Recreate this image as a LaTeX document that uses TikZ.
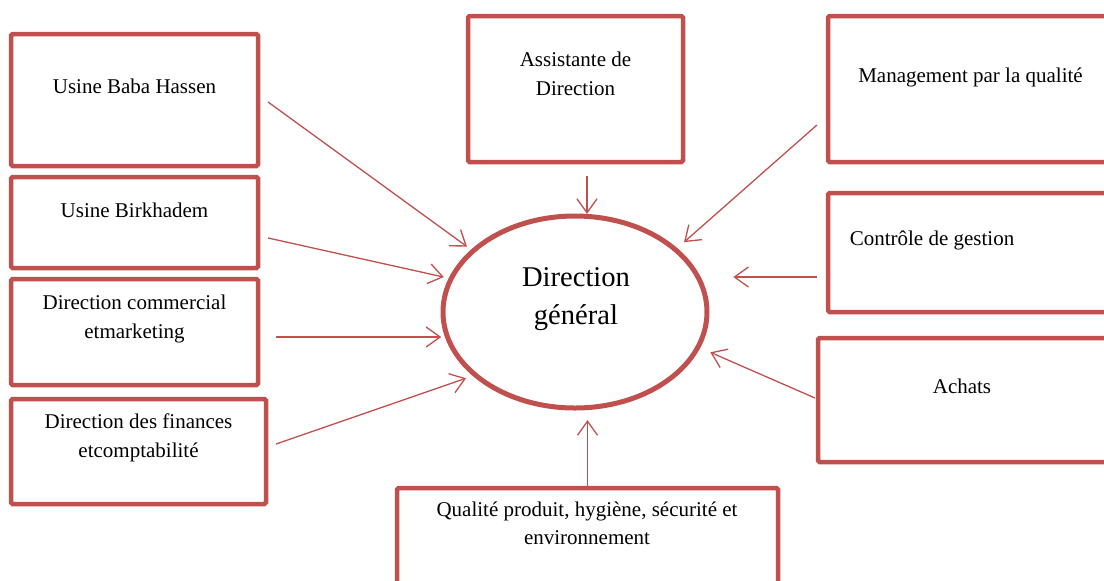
\documentclass[tikz,border=0pt]{standalone}
\usepackage{fontspec}
\setmainfont{Liberation Serif}
\usetikzlibrary{arrows.meta, shapes.geometric}
\definecolor{boxred}{HTML}{C0504D}

\begin{document}
\begin{tikzpicture}[
        x = 0.5pt, y = -0.5pt,
        > = {Straight Barb[length=7pt, width=10pt]},
        box/.style = {draw = boxred, line width = 2.25pt, rounded corners = 0.8pt},
        txt/.style = {align = center, inner sep = 0pt, font = \fontsize{10.5}{14.5}\selectfont},
        arr/.style = {->, draw = boxred, line width = 0.65pt}
    ]

        % Page and clipping.
        \useasboundingbox (0, 0) rectangle (1104, 580);
        \clip (0, 0) rectangle (1104, 580);

        % Centre.
        \node[ellipse, draw = boxred, line width = 2.5pt,
              minimum width = 132pt, minimum height = 96pt] (dg) at (575, 312) {};
        \node[align = center, inner sep = 0pt, font = \fontsize{14.3}{19}\selectfont]
            (dgtext) at (576, 299) {Direction\\général};

        % Boxes on the left.
        \node[box, minimum width = 123.5pt, minimum height = 66pt]   (usine1)  at (134.5, 100)   {};
        \node[box, minimum width = 123.5pt, minimum height = 45.5pt] (usine2)  at (134.5, 222.5) {};
        \node[box, minimum width = 123.5pt, minimum height = 53pt]   (dircom)  at (134.5, 332)   {};
        \node[box, minimum width = 127.5pt, minimum height = 52.5pt] (dirfin)  at (138.5, 451.5) {};

        % Boxes at the top and bottom.
        \node[box, minimum width = 107.5pt, minimum height = 73pt]   (assist)  at (575.5, 89)    {};
        \node[box, minimum width = 190.5pt, minimum height = 56pt]   (qhse)    at (587.5, 544)   {};

        % Boxes on the right.
        \node[box, minimum width = 142pt, minimum height = 73pt]     (mgmt)    at (970, 89)      {};
        \node[box, minimum width = 142pt, minimum height = 59.5pt]   (ctrl)    at (970, 252.5)   {};
        \node[box, minimum width = 147pt, minimum height = 62pt]     (achats)  at (965, 400)     {};

        % Texts.
        \node[txt] (usine1text) at (134.5, 86)  {Usine Baba Hassen};
        \node[txt] (usine2text) at (134.5, 210) {Usine Birkhadem};
        \node[txt] (dircomtext) at (134.5, 319) {Direction commercial\\etmarketing};
        \node[txt] (dirfintext) at (138.5, 438) {Direction des finances\\etcomptabilité};
        \node[txt] (assisttext) at (575.5, 73.5) {Assistante de\\Direction};
        \node[txt] (mgmttext)   at (970.5, 77)  {Management par la qualité};
        \node[txt] (ctrltext)   at (932, 240)   {Contrôle de gestion};
        \node[txt] (achatstext) at (962, 386)   {Achats};
        \node[txt, font = \fontsize{10.5}{14}\selectfont]
                   (qhsetext)   at (587, 523.5) {Qualité produit, hygiène, sécurité et\\environnement};

        % Arrows towards the centre.
        \draw[arr, shorten > = 2.5pt] ([xshift = 3.9pt, yshift = -1pt]usine1.east)    -- (dg.149);
        \draw[arr, shorten > = 2.5pt] ([xshift = 3.9pt, yshift = -7.75pt]usine2.east) -- (dg.165.6);
        \draw[arr, shorten > = 1.5pt] ([xshift = 7.9pt, yshift = -2.5pt]dircom.east)
            coordinate (dircomout) -- (dircomout -| dg.190.6);
        \draw[arr, shorten > = 3.5pt] ([xshift = 3.9pt, yshift = 3.75pt]dirfin.east)  -- (dg.212.2);
        \draw[arr] ([xshift = 5.75pt, yshift = -5.9pt]assist.south)
            coordinate (assistout) -- (assistout |- dg.83);
        \draw[arr, shorten > = 4.5pt] ([xshift = -4.4pt, yshift = -18pt]mgmt.west)    -- (dg.32.1);
        \draw[arr, shorten > = 16pt]  ([xshift = -4.4pt, yshift = -12.25pt]ctrl.west)
            coordinate (ctrlout) -- (ctrlout -| dg.15.6);
        \draw[arr, shorten > = 5.5pt] ([xshift = -0.4pt, yshift = 1pt]achats.west)    -- (dg.344.1);
        \draw[arr, shorten > = 5pt]   (qhse.north) coordinate (qhseout) -- (qhseout |- dg.277);
    \end{tikzpicture}
\end{document}
